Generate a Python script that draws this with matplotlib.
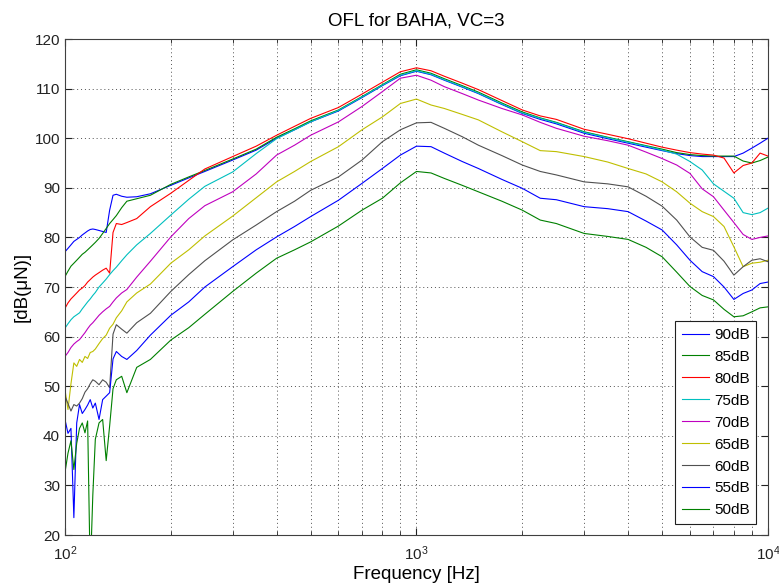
import matplotlib
matplotlib.use("Agg")
import matplotlib.pyplot as plt
from matplotlib.ticker import LogLocator, NullFormatter

plt.rcParams['font.family'] = ['Liberation Sans', 'DejaVu Sans']
plt.rcParams['mathtext.fontset'] = 'custom'
plt.rcParams['mathtext.rm'] = 'Liberation Sans'
plt.rcParams['mathtext.it'] = 'Liberation Sans:italic'

# frequency points [Hz]
freq = [100, 102, 104, 106, 108, 110, 112, 114, 116, 118,
        120, 122, 125, 128, 131, 134, 137, 140, 145, 150,
        160, 175, 200, 225, 250, 300, 350, 400, 450, 500,
        600, 700, 800, 900, 1000, 1100, 1200, 1350, 1500, 1750,
        2000, 2250, 2500, 3000, 3500, 4000, 4500, 5000, 5500, 6000,
        6500, 7000, 7500, 8000, 8500, 9000, 9500, 10000]

ofl_90 = [77.1, 77.8, 78.5, 79.2, 79.6, 80.0, 80.5, 80.9, 81.3, 81.6,
          81.7, 81.6, 81.4, 81.2, 81.0, 85.5, 88.5, 88.7, 88.3, 88.1,
          88.2, 88.8, 90.5, 92.0, 93.3, 95.6, 97.6, 100.0, 101.7, 103.3,
          105.5, 108.2, 110.6, 112.6, 113.5, 112.8, 111.7, 110.3, 109.0, 106.8,
          105.0, 103.8, 102.9, 101.0, 99.9, 99.0, 98.2, 97.5, 96.9, 96.5,
          96.3, 96.3, 96.3, 96.3, 97.0, 98.0, 99.0, 100.0]

ofl_85 = [72.1, 73.2, 74.2, 74.8, 75.4, 76.0, 76.6, 77.0, 77.5, 78.0,
          78.5, 79.0, 79.8, 80.8, 81.8, 82.8, 83.6, 84.4, 86.0, 87.3,
          87.8, 88.5, 90.7, 92.2, 93.5, 95.8, 97.8, 100.2, 101.9, 103.5,
          105.7, 108.4, 110.8, 112.9, 113.8, 113.1, 112.0, 110.6, 109.3, 107.1,
          105.3, 104.1, 103.2, 101.3, 100.2, 99.3, 98.5, 97.8, 97.1, 96.7,
          96.5, 96.4, 96.4, 96.4, 95.4, 95.0, 95.5, 96.2]

ofl_80 = [65.7, 66.8, 67.6, 68.2, 68.8, 69.4, 69.8, 70.3, 71.0, 71.5,
          72.0, 72.4, 72.9, 73.4, 73.8, 72.8, 81.0, 82.8, 82.6, 83.0,
          83.8, 86.2, 88.9, 91.5, 93.8, 96.3, 98.4, 100.6, 102.4, 104.0,
          106.2, 108.9, 111.3, 113.4, 114.2, 113.6, 112.5, 111.1, 109.8, 107.6,
          105.7, 104.5, 103.8, 101.8, 100.8, 99.9, 99.0, 98.2, 97.6, 97.1,
          96.8, 96.6, 96.0, 93.0, 94.5, 95.0, 97.0, 96.4]

ofl_75 = [61.7, 62.6, 63.4, 64.0, 64.4, 64.8, 65.6, 66.3, 67.0, 67.6,
          68.3, 68.9, 70.0, 70.8, 71.6, 72.5, 73.3, 74.0, 75.3, 76.5,
          78.5, 80.8, 84.5, 87.7, 90.3, 93.2, 96.9, 99.9, 101.7, 103.3,
          105.6, 108.3, 110.7, 112.7, 113.6, 112.9, 111.8, 110.4, 109.1, 106.9,
          105.1, 104.0, 103.1, 101.2, 100.1, 99.2, 98.4, 97.6, 96.8, 95.3,
          93.6, 90.8, 89.3, 87.9, 85.0, 84.6, 85.0, 85.9]

ofl_70 = [56.0, 56.8, 57.8, 58.5, 59.0, 59.4, 60.1, 60.8, 61.6, 62.3,
          62.8, 63.4, 64.3, 65.0, 65.6, 66.1, 67.0, 67.8, 68.8, 69.5,
          72.0, 75.2, 80.1, 83.8, 86.4, 89.2, 92.8, 96.6, 98.6, 100.6,
          103.3, 106.4, 109.4, 112.1, 112.7, 111.7, 110.4, 109.0, 107.7, 106.0,
          104.7, 103.2, 102.0, 100.4, 99.5, 98.6, 97.2, 95.9, 94.6, 92.9,
          89.8, 88.2, 85.5, 83.0, 80.6, 79.6, 80.0, 80.3]

ofl_65 = [49.3, 45.3, 50.5, 54.7, 54.0, 55.4, 54.8, 56.0, 55.6, 56.8,
          57.0, 57.5, 58.6, 59.6, 60.3, 61.7, 62.5, 63.8, 65.2, 67.0,
          68.8, 70.6, 74.8, 77.5, 80.3, 84.3, 88.0, 91.2, 93.3, 95.3,
          98.3, 101.7, 104.3, 107.0, 107.9, 106.7, 106.0, 104.8, 103.7, 101.3,
          99.3, 97.5, 97.3, 96.3, 95.2, 93.9, 92.8, 91.2, 89.2, 86.9,
          85.2, 84.2, 82.2, 78.1, 74.1, 74.8, 75.0, 75.4]

ofl_60 = [48.0, 46.5, 45.0, 46.3, 46.0, 46.6, 47.5, 48.8, 49.5, 50.5,
          51.3, 51.0, 50.3, 51.3, 50.8, 49.7, 60.5, 62.4, 61.5, 60.7,
          62.8, 64.7, 69.1, 72.5, 75.3, 79.5, 82.5, 85.2, 87.3, 89.5,
          92.2, 95.6, 99.3, 101.7, 103.1, 103.2, 102.0, 100.3, 98.6, 96.5,
          94.6, 93.3, 92.6, 91.2, 90.8, 90.2, 88.3, 86.3, 83.5, 80.1,
          78.0, 77.4, 75.2, 72.4, 74.1, 75.4, 75.7, 75.1]

ofl_55 = [43.3, 40.5, 41.5, 23.5, 42.6, 46.3, 44.5, 45.3, 46.2, 47.3,
          45.6, 46.6, 43.3, 47.3, 48.0, 48.7, 55.5, 57.0, 56.0, 55.4,
          57.2, 60.3, 64.3, 67.0, 70.0, 74.1, 77.5, 80.1, 82.2, 84.2,
          87.5, 90.9, 93.9, 96.6, 98.4, 98.3, 97.0, 95.3, 93.9, 91.7,
          89.9, 87.9, 87.6, 86.2, 85.8, 85.2, 83.3, 81.5, 78.5, 75.4,
          73.1, 72.1, 70.0, 67.5, 68.7, 69.4, 70.7, 71.0]

ofl_50 = [32.6, 36.5, 39.0, 33.2, 38.5, 41.5, 42.6, 40.6, 43.0, 12.0,
          28.0, 39.3, 42.6, 43.3, 35.0, 42.0, 49.5, 51.3, 52.0, 48.7,
          53.8, 55.4, 59.3, 61.8, 64.5, 69.1, 72.8, 75.8, 77.5, 79.1,
          82.3, 85.5, 87.9, 91.0, 93.3, 93.0, 91.9, 90.5, 89.2, 87.3,
          85.5, 83.5, 82.8, 80.8, 80.2, 79.6, 78.0, 76.1, 73.0, 70.1,
          68.3, 67.4, 65.5, 64.0, 64.2, 65.0, 65.8, 66.0]

labels = ['90dB', '85dB', '80dB', '75dB', '70dB', '65dB', '60dB', '55dB', '50dB']
series = [ofl_90, ofl_85, ofl_80, ofl_75, ofl_70, ofl_65, ofl_60, ofl_55, ofl_50]
colors = ['#0000ff', '#008000', '#ff0000', '#00bfbf', '#bf00bf',
          '#bfbf00', '#505050', '#0000ff', '#008000']

fig = plt.figure(figsize=(7.79, 5.86), dpi=100)
ax = fig.add_axes([0.0834, 0.0870, 0.9024, 0.8464])

for vals, lab, col in zip(series, labels, colors):
    ax.semilogx(freq, vals, color=col, linewidth=0.8, label=lab)

ax.set_xlim(100, 10000)
ax.set_ylim(20, 120)
ax.set_yticks(range(20, 121, 10))
ax.xaxis.set_minor_locator(LogLocator(base=10, subs=range(2, 10)))
ax.xaxis.set_minor_formatter(NullFormatter())

dots = (0, (1, 3))
ax.grid(True, which='major', linestyle=dots, color='#505050', linewidth=0.7)
ax.grid(True, which='minor', axis='x', linestyle=dots, color='#505050', linewidth=0.7)
ax.tick_params(which='both', direction='in', top=True, right=True,
               labelsize=11, colors='#222222')
ax.tick_params(which='major', length=5)
ax.tick_params(which='minor', length=3)
ax.tick_params(axis='x', which='major', pad=7)
for sp in ax.spines.values():
    sp.set_color('#404040')

ax.set_title('OFL for BAHA, VC=3', fontsize=13.5, pad=10)
ax.set_xlabel('Frequency [Hz]', fontsize=13.5, labelpad=2)
ax.set_ylabel('[dB(\u03bcN)]', fontsize=13.5, labelpad=3)

leg = ax.legend(loc='upper left', bbox_to_anchor=(0.8677, 0.4315), borderaxespad=0,
                fontsize=11, labelspacing=0.52, handlelength=1.8, handletextpad=0.3,
                borderpad=0.45, fancybox=False, framealpha=1, edgecolor='#202020')
leg.get_frame().set_linewidth(0.8)

fig.savefig('out.png', dpi=100)
